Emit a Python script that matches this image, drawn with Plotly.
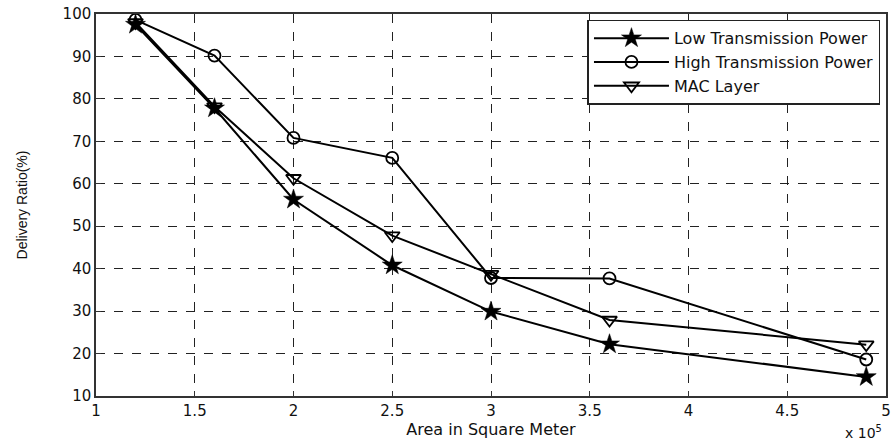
import plotly.graph_objects as go

area = [1.2, 1.6, 2.0, 2.5, 3.0, 3.6, 4.9]
low_power = [97.5, 77.8, 56.3, 40.8, 29.9, 22.2, 14.5]
high_power = [98.6, 90.2, 70.8, 66.1, 37.8, 37.7, 18.6]
mac_layer = [98.0, 78.2, 61.3, 47.8, 38.7, 27.9, 22.1]

x_ticks = [1, 1.5, 2, 2.5, 3, 3.5, 4, 4.5, 5]
x_tick_text = ["1", "1.5", "2", "2.5", "3", "3.5", "4", "4.5", "5"]
y_ticks = [10, 20, 30, 40, 50, 60, 70, 80, 90, 100]

font_family = "DejaVu Sans, Liberation Sans, Arial, sans-serif"

fig = go.Figure()
fig.add_trace(go.Scatter(
    x=area, y=low_power, name="Low Transmission Power", mode="lines+markers",
    line=dict(color="black", width=2),
    marker=dict(symbol="star", size=15, color="black", line=dict(color="black", width=0.5)),
))
fig.add_trace(go.Scatter(
    x=area, y=high_power, name="High Transmission Power", mode="lines+markers",
    line=dict(color="black", width=2),
    marker=dict(symbol="circle-open", size=12, color="black", line=dict(color="black", width=1.8)),
))
fig.add_trace(go.Scatter(
    x=area, y=mac_layer, name="MAC Layer", mode="lines+markers",
    line=dict(color="black", width=2),
    marker=dict(symbol="triangle-down-open", size=13, color="black", line=dict(color="black", width=1.8)),
))

axis_common = dict(
    showline=True, linecolor="#333", linewidth=1.5, mirror=True,
    showgrid=True, gridcolor="#222", griddash="dash", gridwidth=1,
    ticks="inside", ticklen=5, tickcolor="#333",
    tickfont=dict(family=font_family, size=15, color="#111"),
    zeroline=False, automargin=False,
)

fig.update_layout(
    width=891, height=443,
    margin=dict(l=96, r=5, t=14, b=47),
    paper_bgcolor="white", plot_bgcolor="white",
    font=dict(family=font_family, color="#111"),
    xaxis=dict(range=[1, 5], tickvals=x_ticks, ticktext=x_tick_text,
               title=dict(text="Area in Square Meter",
                          font=dict(family=font_family, size=16), standoff=0),
               **axis_common),
    yaxis=dict(range=[10, 100], tickvals=y_ticks,
               title=dict(text="Delivery Ratio(%)",
                          font=dict(family="Liberation Sans Narrow, Liberation Sans, Arial", size=14),
                          standoff=32),
               **axis_common),
    legend=dict(x=0.993, y=0.985, xanchor="right", yanchor="top",
                bgcolor="white", bordercolor="#222", borderwidth=1.5,
                font=dict(family=font_family, size=16, color="#111"),
                itemwidth=75, tracegroupgap=0),
    showlegend=True,
)

fig.add_annotation(
    text="x 10<sup>5</sup>", xref="paper", yref="paper", x=0.998, y=-0.122,
    xanchor="right", yanchor="bottom", showarrow=False,
    font=dict(family=font_family, size=14, color="#111"),
)

fig.write_html("out.html", config={"displayModeBar": False},
               post_script="document.body.style.margin='0';")
